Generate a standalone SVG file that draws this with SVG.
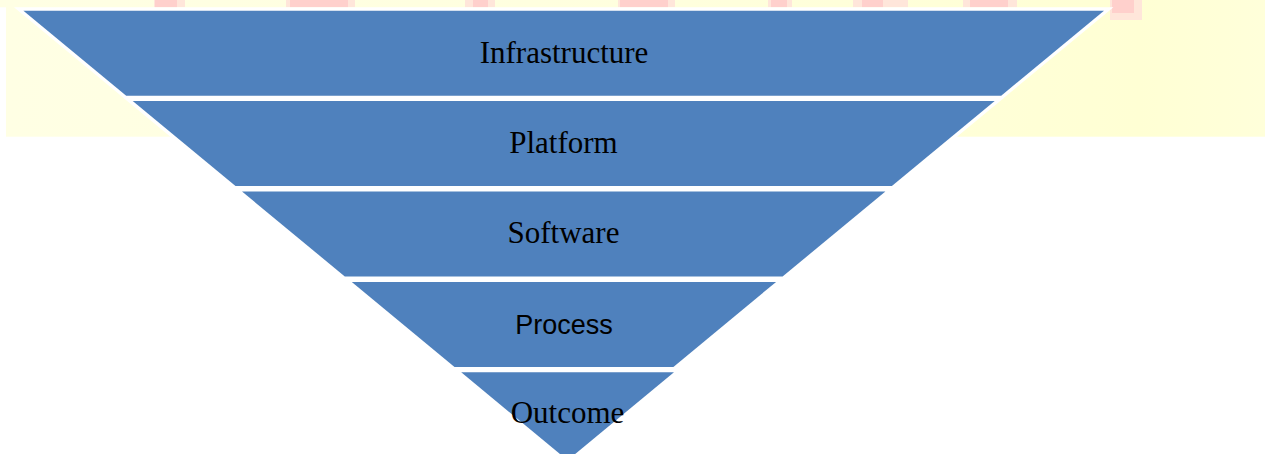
<svg xmlns="http://www.w3.org/2000/svg" width="1265" height="454" viewBox="0 0 1265 454">
  <defs>
    <linearGradient id="bgGrad" x1="0" y1="0" x2="1" y2="0">
      <stop offset="0" stop-color="#FFFFE4"/>
      <stop offset="0.5" stop-color="#FFFFDE"/>
      <stop offset="0.9" stop-color="#FFFFD4"/>
      <stop offset="1" stop-color="#FFFFDA"/>
    </linearGradient>
  </defs>
  <style>
    .layer { fill: #4F81BD; stroke: #FFFFFF; stroke-width: 6.8; stroke-linejoin: miter; paint-order: stroke; }
    .serif { font-family: "Liberation Serif", "Times New Roman", serif; font-size: 31px; fill: #000000; text-anchor: middle; }
    .sans { font-family: "Liberation Sans", Arial, sans-serif; font-size: 27px; fill: #000000; text-anchor: middle; }
    .pink { fill: #FFD0CC; }
    .pinkLight { fill: #FFE6DA; }
  </style>
  <rect x="0" y="0" width="1265" height="454" fill="#FFFFFF"/>
  <g id="background">
    <rect x="6" y="0" width="1259" height="136.7" fill="url(#bgGrad)"/>
    <rect x="0" y="0" width="6" height="7.3" fill="#FFFFE4"/>
    <rect class="pinkLight" x="154" y="0" width="31" height="7.3"/>
    <rect class="pink" x="155" y="0" width="22" height="7.3"/>
    <rect class="pinkLight" x="286" y="0" width="69" height="7.3"/>
    <rect class="pink" x="290" y="0" width="58" height="7.3"/>
    <rect class="pinkLight" x="465" y="0" width="30" height="7.3"/>
    <rect class="pink" x="473" y="0" width="15" height="7.3"/>
    <rect class="pinkLight" x="618" y="0" width="57" height="7.3"/>
    <rect class="pink" x="620" y="0" width="48" height="7.3"/>
    <rect class="pinkLight" x="768" y="0" width="24" height="7.3"/>
    <rect class="pink" x="771" y="0" width="16" height="7.3"/>
    <rect class="pinkLight" x="853" y="0" width="55" height="7.3"/>
    <rect class="pink" x="862" y="0" width="21" height="7.3"/>
    <rect class="pinkLight" x="963" y="0" width="54" height="7.3"/>
    <rect class="pink" x="970" y="0" width="38" height="7.3"/>
    <rect class="pinkLight" x="1110" y="0" width="32" height="20"/>
    <rect class="pink" x="1112" y="0" width="22" height="13"/>
  </g>
  <g id="connectors"/>
  <g id="node-infrastructure">
    <polygon class="layer" points="23.4,10.7 1104,10.7 1001.2,95.7 126.2,95.7"/>
    <text class="serif" x="564" y="62.7">Infrastructure</text>
  </g>
  <g id="node-platform">
    <polygon class="layer" points="132.7,101.1 994.7,101.1 891.9,186.1 235.5,186.1"/>
    <text class="serif" x="563.5" y="153.3">Platform</text>
  </g>
  <g id="node-software">
    <polygon class="layer" points="242,191.5 885.4,191.5 782.6,276.5 344.8,276.5"/>
    <text class="serif" x="563.5" y="243.3">Software</text>
  </g>
  <g id="node-process">
    <polygon class="layer" points="351.8,281.9 776.1,281.9 673.4,366.9 454.5,366.9"/>
    <text class="sans" x="564" y="334">Process</text>
  </g>
  <g id="node-outcome">
    <polygon class="layer" points="461.2,372.3 674,372.3 567.6,460.3"/>
    <text class="serif" x="567.5" y="423.3">Outcome</text>
  </g>
</svg>
